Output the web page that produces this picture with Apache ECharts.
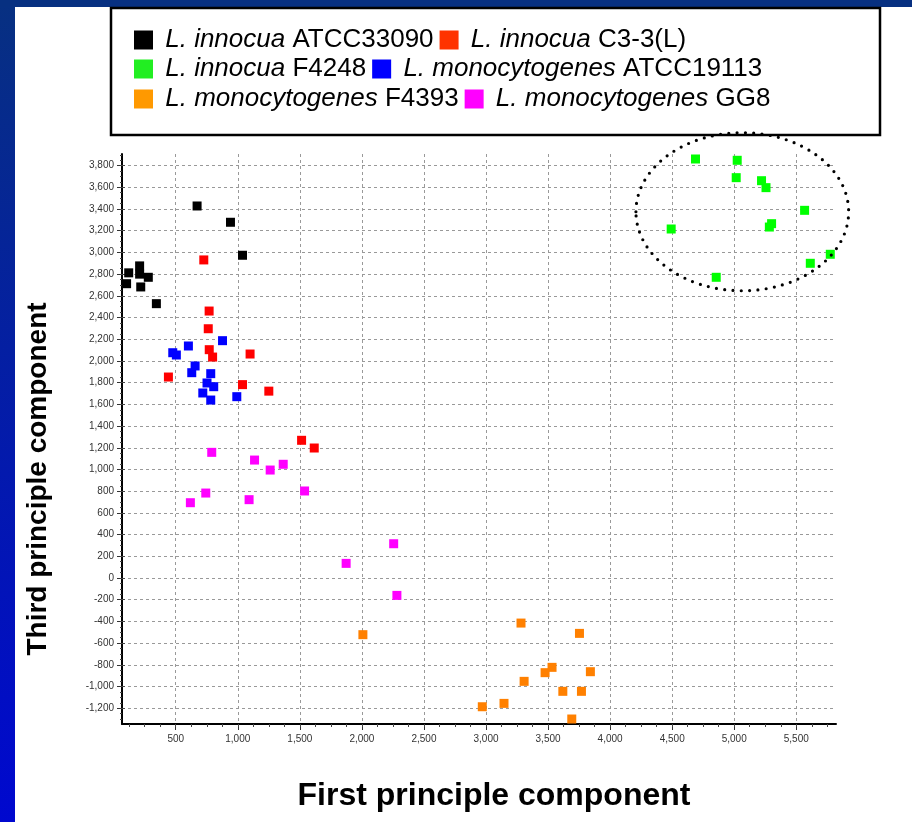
<!DOCTYPE html>
<html>
<head>
<meta charset="utf-8">
<title>Listeria strains — principal component scores</title>
<script src="https://cdn.jsdelivr.net/npm/echarts@6/dist/echarts.min.js"></script>
<style>
  html, body { margin: 0; padding: 0; background: #ffffff; }
  #chart { width: 912px; height: 822px; }
</style>
</head>
<body>
<div id="chart"></div>
<script>
// Strain names (legend order)
const strainNames = [
  'L. innocua ATCC33090',
  'L. innocua C3-3(L)',
  'L. innocua F4248',
  'L. monocytogenes ATCC19113',
  'L. monocytogenes F4393',
  'L. monocytogenes GG8'
];

// Scores: [first principal component, third principal component]
const innocuaATCC33090 = [
  [672, 3428], [941, 3278], [1038, 2974], [121, 2812], [209, 2876],
  [209, 2800], [279, 2771], [104, 2712], [218, 2682], [344, 2528]
];
const innocuaC33L = [
  [726, 2931], [769, 2460], [762, 2297], [770, 2104], [797, 2036],
  [1099, 2064], [441, 1852], [1038, 1782], [1250, 1722], [1514, 1269],
  [1616, 1198]
];
const innocuaF4248 = [
  [4688, 3861], [5024, 3849], [5016, 3689], [5220, 3661], [5256, 3597],
  [5567, 3388], [5301, 3265], [5283, 3234], [4492, 3216], [5774, 2983],
  [5613, 2900], [4855, 2771]
];
const monoATCC19113 = [
  [877, 2187], [602, 2138], [476, 2076], [505, 2055], [656, 1954],
  [629, 1892], [782, 1883], [752, 1797], [806, 1763], [718, 1705],
  [782, 1640], [992, 1671]
];
const monoF4393 = [
  [2008, -522], [3282, -415], [3753, -510], [3532, -823], [3476, -872],
  [3841, -863], [3307, -952], [3619, -1044], [3769, -1044], [3145, -1155],
  [2970, -1186], [3691, -1299]
];
const monoGG8 = [
  [790, 1158], [1135, 1087], [1261, 995], [1366, 1048], [1538, 802],
  [742, 783], [1091, 722], [618, 694], [1873, 135], [2256, 316],
  [2282, -160]
];

// Tick labels on each axis
const xTicks = [500, 1000, 1500, 2000, 2500, 3000, 3500, 4000, 4500, 5000, 5500];
const yTicks = [-1200, -1000, -800, -600, -400, -200, 0, 200, 400, 600, 800, 1000,
  1200, 1400, 1600, 1800, 2000, 2200, 2400, 2600, 2800, 3000, 3200, 3400, 3600, 3800];

// Axis ranges and minor-tick spacing
const xRange = [67, 5820];
const yRange = [-1345, 3907];
const xMinorStep = 125;
const yMinorStep = 50;

// Dotted outline around the F4248 cluster (centre and radii in data units)
const clusterOutline = { cx: 5065, cy: 3375, rx: 857, ry: 728 };

const seriesData = [innocuaATCC33090, innocuaC33L, innocuaF4248, monoATCC19113, monoF4393, monoGG8];
const pointColors = ['#000000', '#ff0000', '#00ff00', '#0000ff', '#ff8000', '#ff00ff'];
const legendColors = ['#000000', '#ff3300', '#22ee22', '#0000ff', '#ff9900', '#ff00ff'];

const FONT = '"Liberation Sans", Arial, Helvetica, sans-serif';

function minorValues(range, step) {
  const out = [];
  for (let v = Math.ceil(range[0] / step) * step; v <= range[1]; v += step) out.push(v);
  return out;
}

function legendBlock(i, top) {
  return {
    orient: 'horizontal',
    left: 134,
    top: top,
    padding: 0,
    itemGap: 6,
    itemWidth: 19,
    itemHeight: 19,
    icon: 'rect',
    data: [
      { name: strainNames[i], itemStyle: { color: legendColors[i] } },
      { name: strainNames[i + 1], itemStyle: { color: legendColors[i + 1] } }
    ],
    formatter: function (name) {
      const parts = name.split(' ');
      return ' {it|' + parts[0] + ' ' + parts[1] + '} ' + parts.slice(2).join(' ');
    },
    textStyle: {
      fontFamily: FONT,
      fontSize: 26,
      color: '#000',
      rich: {
        it: { fontFamily: FONT, fontSize: 26, fontStyle: 'italic', color: '#000' }
      }
    }
  };
}

const chart = echarts.init(document.getElementById('chart'), null, { renderer: 'canvas' });

const scatterSeries = seriesData.map(function (data, i) {
  return {
    name: strainNames[i],
    type: 'scatter',
    symbol: 'rect',
    symbolSize: 9,
    data: data,
    itemStyle: { color: pointColors[i], opacity: 1 },
    emphasis: { disabled: true },
    z: 3
  };
});

// Dotted ellipse placed through the grid's own coordinate system
const outlineSeries = {
  name: 'cluster outline',
  type: 'custom',
  coordinateSystem: 'cartesian2d',
  clip: false,
  silent: true,
  z: 10,
  data: [[clusterOutline.cx, clusterOutline.cy]],
  renderItem: function (params, api) {
    const c = api.coord([clusterOutline.cx, clusterOutline.cy]);
    const s = api.size([clusterOutline.rx, clusterOutline.ry]);
    return {
      type: 'ellipse',
      shape: { cx: c[0], cy: c[1], rx: s[0], ry: s[1] },
      style: {
        fill: null,
        stroke: '#000',
        lineWidth: 3.2,
        lineDash: [0, 8.3],
        lineCap: 'round'
      }
    };
  }
};

const dashed = { color: '#999', type: [3, 3], width: 1 };
const labelStyle = { fontFamily: FONT, fontSize: 10, color: '#333' };

// Helper axis that only carries extra tick marks on the same scale
function tickOnlyAxis(range, values, length, inside, position) {
  return {
    type: 'value',
    position: position,
    min: range[0],
    max: range[1],
    axisLine: { show: false, onZero: false },
    axisLabel: { show: false },
    splitLine: { show: false },
    axisTick: { show: true, inside: inside, length: length, customValues: values, lineStyle: { color: '#444', width: 1 } }
  };
}

const option = {
  animation: false,
  backgroundColor: '#ffffff',
  grid: { left: 122, right: 76, top: 154, bottom: 98, containLabel: false },
  legend: [legendBlock(0, 27), legendBlock(2, 56), legendBlock(4, 86)],
  xAxis: [
    {
      type: 'value',
      position: 'bottom',
      min: xRange[0],
      max: xRange[1],
      axisLine: { show: true, onZero: false, lineStyle: { color: '#000', width: 2 } },
      axisTick: { show: true, length: 6, customValues: xTicks, lineStyle: { color: '#333', width: 1 } },
      axisLabel: Object.assign({ margin: 10, customValues: xTicks }, labelStyle),
      splitLine: { show: true, lineStyle: dashed }
    },
    tickOnlyAxis(xRange, minorValues(xRange, xMinorStep), 3, false, 'bottom')
  ],
  yAxis: [
    {
      type: 'value',
      position: 'left',
      min: yRange[0],
      max: yRange[1],
      axisLine: { show: true, onZero: false, lineStyle: { color: '#000', width: 2 } },
      axisTick: { show: true, length: 5, customValues: yTicks, lineStyle: { color: '#333', width: 1 } },
      axisLabel: Object.assign({ margin: 8, customValues: yTicks }, labelStyle),
      splitLine: { show: true, lineStyle: dashed }
    },
    tickOnlyAxis(yRange, minorValues(yRange, yMinorStep), 2, false, 'left'),
    tickOnlyAxis(yRange, yTicks, 3, true, 'left')
  ],
  graphic: [
    {
      id: 'side-band',
      type: 'rect',
      shape: { x: 0, y: 0, width: 15, height: 822 },
      style: {
        fill: {
          type: 'linear', x: 0, y: 0, x2: 0, y2: 1,
          colorStops: [
            { offset: 0, color: '#073081' },
            { offset: 1, color: '#0008cf' }
          ]
        }
      },
      silent: true
    },
    {
      id: 'top-band',
      type: 'rect',
      shape: { x: 0, y: 0, width: 912, height: 7 },
      style: { fill: '#073081' },
      silent: true
    },
    {
      id: 'legend-frame',
      type: 'rect',
      shape: { x: 111, y: 8, width: 769, height: 127 },
      style: { fill: '#ffffff', stroke: '#000', lineWidth: 2.5 },
      silent: true
    },
    {
      id: 'y-title',
      type: 'text',
      x: 38,
      y: 479,
      rotation: Math.PI / 2,
      style: {
        text: 'Third principle component',
        font: 'bold 28px ' + FONT,
        fill: '#000',
        align: 'center',
        verticalAlign: 'middle'
      },
      silent: true
    },
    {
      id: 'x-title',
      type: 'text',
      x: 494,
      y: 796,
      style: {
        text: 'First principle component',
        font: 'bold 32px ' + FONT,
        fill: '#000',
        align: 'center',
        verticalAlign: 'middle'
      },
      silent: true
    }
  ],
  series: scatterSeries.concat([outlineSeries])
};

chart.setOption(option);
</script>
</body>
</html>
